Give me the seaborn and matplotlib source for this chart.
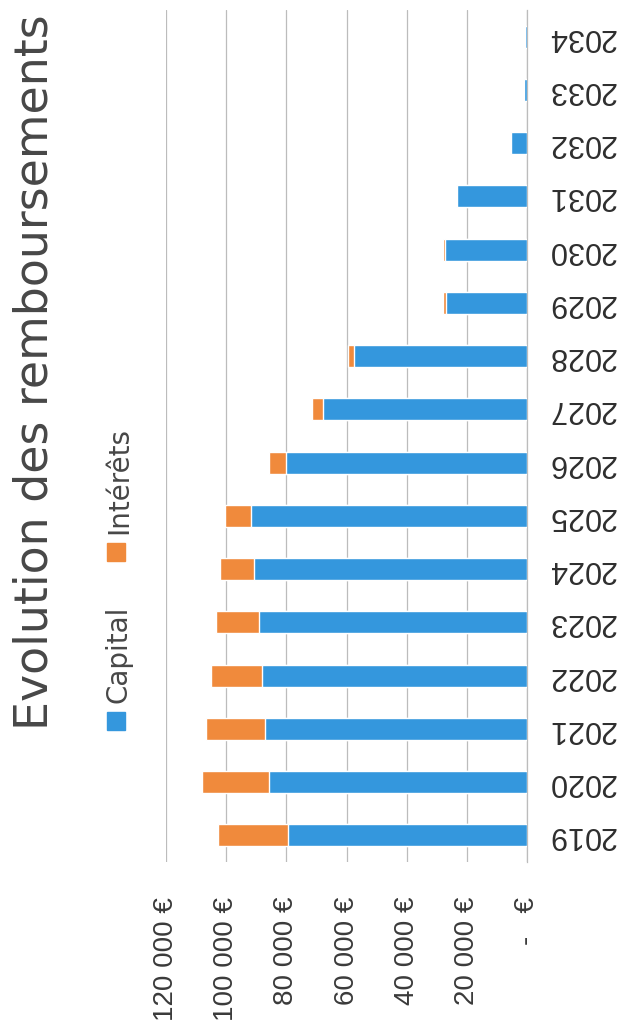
import matplotlib
matplotlib.use("Agg")
import matplotlib.pyplot as plt
from matplotlib.patches import Rectangle
import pandas as pd
import seaborn as sns

# colours of the scanned Excel chart
blue = "#3497dd"
orange = "#f08a3c"
grid_grey = "#bcbcbc"
text_grey = "#3a3a3a"

years = ["2019", "2020", "2021", "2022", "2023", "2024", "2025", "2026",
         "2027", "2028", "2029", "2030", "2031", "2032", "2033", "2034"]
capital = [79300, 85600, 87000, 88100, 89100, 90600, 91900, 80100,
           67700, 57500, 26900, 27100, 23200, 5200, 1000, 500]
interets = [23500, 22400, 19600, 16800, 14300, 11400, 8400, 5700,
            3700, 2000, 1100, 900, 400, 400, 100, 300]
value_ticks = [0, 20000, 40000, 60000, 80000, 100000, 120000]
value_labels = ["-   €", "20 000 €", "40 000 €", "60 000 €", "80 000 €",
                "100 000 €", "120 000 €"]
title = "Evolution des remboursements"
legend_labels = ["Capital", "Intérêts"]

df = pd.DataFrame({"year": years, "capital": capital, "interets": interets})
df["total"] = df["capital"] + df["interets"]

sns.set_style("white")
plt.rcParams['font.family'] = ['DejaVu Sans']

W, H = 621, 1034
fig = plt.figure(figsize=(W / 100, H / 100), dpi=100)
ax = fig.add_axes([166 / W, 172 / H, 361 / W, 852 / H])

# chart is a column chart turned a quarter turn: values grow to the left
order = years[::-1]
sns.barplot(data=df, x="total", y="year", order=order, color=orange,
            width=0.41, saturation=1, ax=ax, zorder=3)
sns.barplot(data=df, x="capital", y="year", order=order, color=blue,
            width=0.41, saturation=1, ax=ax, zorder=3)

ax.set_xlim(120000, 0)
ax.set_ylim(15.5, -0.5)
ax.set_xlabel("")
ax.set_ylabel("")

ax.set_xticks(value_ticks)
ax.set_xticklabels(value_labels, family=['Liberation Sans', 'DejaVu Sans'],
                   fontsize=20, color=text_grey, rotation=90)
ax.tick_params(axis="x", length=0, pad=25)
ax.grid(axis="x", color=grid_grey, lw=0.9)
ax.grid(axis="y", visible=False)
ax.set_axisbelow(True)

ax.yaxis.tick_right()
ax.tick_params(axis="y", length=0, pad=15)
for lab in ax.get_yticklabels():
    lab.set_rotation(180)
    lab.set_verticalalignment("center")
    lab.set_family(['Liberation Sans', 'DejaVu Sans'])
    lab.set_fontsize(22)
    lab.set_color("#2e2e2e")

for side in ["left", "top", "bottom"]:
    ax.spines[side].set_visible(False)
ax.spines["right"].set_color(grid_grey)
ax.spines["right"].set_linewidth(0.9)

# title and legend, turned like the rest of the scan
fig.text(13 / W, 1 - 730 / H, title, rotation=90, ha="left", va="bottom",
         fontsize=33, color="#474747")

for color, label, y0 in zip([blue, orange], legend_labels, [712, 543]):
    fig.patches.append(Rectangle((107 / W, 1 - (y0 + 18) / H), 18 / W, 18 / H,
                                 transform=fig.transFigure, color=color))
    fig.text(105 / W, 1 - (y0 - 9) / H, label, rotation=90, ha="left",
             va="bottom", fontsize=20, color="#474747")

fig.savefig("out.png", dpi=100, facecolor="white")
